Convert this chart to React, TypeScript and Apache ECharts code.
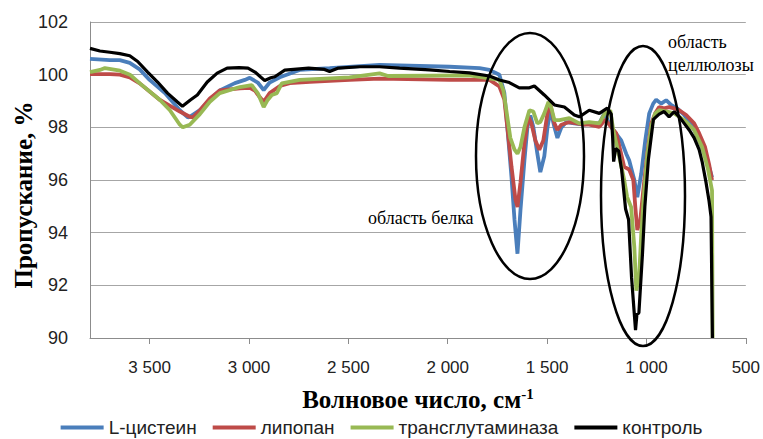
import React, { useEffect, useRef } from "react";
import * as echarts from "echarts";

const seriesNames = ["L-цистеин", "липопан", "трансглутаминаза", "контроль"];
const seriesColors = ["#4A7EBB", "#BE4B48", "#98B954", "#000000"];
const xTickValues = [500, 1000, 1500, 2000, 2500, 3000, 3500];

const cysteineWn = [3800, 3700, 3650, 3600, 3550, 3500, 3423, 3348, 3308, 3298, 3247, 3197, 3147, 3071, 3021, 2996, 2956, 2926, 2896, 2845, 2745, 2594, 2343, 1991, 1840, 1790, 1740, 1715, 1700, 1679, 1664, 1649, 1634, 1614, 1599, 1584, 1569, 1549, 1534, 1514, 1498, 1483, 1463, 1448, 1428, 1403, 1363, 1313, 1288, 1237, 1212, 1187, 1167, 1147, 1127, 1102, 1087, 1061, 1046, 1026, 1006, 986, 966, 951, 926, 901, 876, 845, 810, 775, 735, 700, 670];
const cysteineT = [100.6, 100.55, 100.55, 100.45, 100.2, 99.8, 99.3, 98.65, 98.38, 98.4, 98.65, 99.05, 99.4, 99.68, 99.8, 99.88, 99.7, 99.42, 99.7, 99.9, 100.18, 100.25, 100.37, 100.3, 100.25, 100.18, 100.0, 99.3, 98.0, 96.1, 94.5, 93.2, 94.85, 96.75, 98.0, 98.45, 98.0, 97.0, 96.3, 96.9, 98.0, 98.65, 98.0, 97.6, 98.0, 98.2, 98.15, 98.1, 98.15, 98.15, 98.53, 98.15, 97.9, 97.7, 97.5, 97.0, 96.75, 96.0, 95.35, 96.25, 97.5, 98.53, 98.9, 99.05, 98.9, 99.03, 98.85, 98.72, 98.47, 98.15, 97.5, 96.9, 96.1];

const lipopanWn = [3800, 3700, 3650, 3600, 3550, 3448, 3348, 3298, 3282, 3247, 3197, 3147, 3046, 2996, 2971, 2946, 2926, 2896, 2845, 2795, 2694, 2494, 2343, 1991, 1790, 1765, 1740, 1715, 1700, 1679, 1659, 1649, 1634, 1614, 1594, 1579, 1559, 1539, 1519, 1498, 1483, 1463, 1448, 1428, 1388, 1313, 1288, 1237, 1207, 1177, 1152, 1137, 1112, 1087, 1066, 1056, 1046, 1031, 1016, 996, 976, 956, 936, 911, 886, 860, 835, 800, 760, 735, 705, 685, 670];
const lipopanT = [100.02, 100.02, 100.0, 99.9, 99.67, 99.04, 98.6, 98.4, 98.38, 98.65, 99.1, 99.4, 99.48, 99.5, 99.4, 99.15, 98.97, 99.3, 99.57, 99.68, 99.73, 99.8, 99.85, 99.8, 99.8, 99.68, 99.55, 99.05, 98.0, 96.5, 95.25, 94.97, 95.9, 97.4, 98.4, 98.15, 97.5, 97.15, 97.5, 98.53, 98.85, 98.15, 97.9, 98.1, 98.2, 98.1, 98.1, 98.02, 98.3, 98.0, 97.78, 97.3, 96.5, 96.4, 96.0, 94.97, 94.1, 94.48, 95.6, 97.0, 98.15, 98.53, 98.77, 98.72, 98.77, 98.72, 98.65, 98.47, 98.15, 97.78, 97.25, 96.6, 96.0];

const transglutWn = [3800, 3750, 3725, 3649, 3599, 3549, 3448, 3398, 3348, 3333, 3298, 3247, 3197, 3147, 3046, 2986, 2956, 2926, 2906, 2885, 2860, 2835, 2745, 2494, 2343, 2300, 1891, 1740, 1720, 1705, 1685, 1664, 1649, 1634, 1614, 1589, 1569, 1549, 1534, 1514, 1493, 1478, 1463, 1438, 1388, 1338, 1288, 1237, 1212, 1182, 1167, 1152, 1137, 1112, 1097, 1077, 1061, 1051, 1036, 1026, 1011, 996, 976, 956, 936, 896, 860, 810, 760, 720, 690, 670, 667];
const transglutT = [100.1, 100.18, 100.25, 100.15, 100.0, 99.67, 99.04, 98.65, 98.1, 98.0, 98.1, 98.5, 98.97, 99.3, 99.53, 99.6, 99.3, 98.77, 99.04, 99.23, 99.3, 99.67, 99.8, 99.9, 100.05, 99.95, 99.97, 99.8, 99.4, 98.65, 97.6, 97.15, 97.0, 97.25, 98.0, 98.65, 98.6, 98.15, 98.2, 98.53, 98.97, 98.72, 98.27, 98.27, 98.35, 98.15, 98.2, 98.15, 98.5, 98.65, 97.9, 97.4, 96.9, 96.0, 95.35, 94.97, 93.45, 91.8, 92.45, 93.98, 95.6, 96.9, 98.02, 98.53, 98.65, 98.6, 98.53, 98.27, 97.9, 97.25, 96.4, 95.6, 90.0];

const controlWn = [3800, 3750, 3700, 3650, 3600, 3560, 3510, 3460, 3410, 3360, 3335, 3295, 3260, 3210, 3160, 3110, 3050, 3005, 2970, 2940, 2921, 2890, 2870, 2820, 2745, 2700, 2620, 2594, 2550, 2443, 2343, 2242, 2092, 1990, 1891, 1790, 1740, 1690, 1640, 1589, 1564, 1514, 1463, 1413, 1363, 1338, 1288, 1237, 1197, 1177, 1170, 1165, 1155, 1140, 1125, 1105, 1090, 1075, 1060, 1055, 1048, 1038, 1020, 1008, 990, 965, 936, 911, 886, 860, 835, 810, 785, 760, 735, 720, 700, 685, 675, 668];
const controlT = [101.0, 100.9, 100.85, 100.8, 100.72, 100.5, 100.1, 99.72, 99.3, 98.96, 98.8, 99.04, 99.23, 99.72, 100.06, 100.25, 100.27, 100.25, 100.1, 99.9, 99.78, 99.88, 99.92, 100.17, 100.22, 100.25, 100.2, 100.12, 100.25, 100.3, 100.3, 100.25, 100.18, 100.12, 100.07, 99.95, 99.8, 99.7, 99.5, 99.5, 99.57, 99.23, 98.85, 98.77, 98.47, 98.4, 98.65, 98.53, 98.73, 98.5, 97.6, 96.7, 97.2, 97.1, 96.4, 94.9, 94.5, 92.3, 90.8, 90.3, 90.9, 90.95, 93.2, 95.0, 96.8, 98.3, 98.5, 98.6, 98.4, 98.6, 98.4, 98.15, 97.9, 97.6, 97.15, 96.7, 95.9, 95.2, 94.6, 90.0];

const seriesWn = [cysteineWn, lipopanWn, transglutWn, controlWn];
const seriesT = [cysteineT, lipopanT, transglutT, controlT];

const fmtThousands = (v: number) => {
  const s = String(v);
  return s.length > 3 ? s.slice(0, s.length - 3) + " " + s.slice(-3) : s;
};

export default function App() {
  const ref = useRef<HTMLDivElement>(null);
  useEffect(() => {
    if (!ref.current) return;
    const chart = echarts.init(ref.current, undefined, { renderer: "svg" });
    const series = seriesNames.map((name, i) => ({
      name,
      type: "line",
      showSymbol: false,
      symbol: "none",
      data: seriesWn[i].map((w, j) => [w, seriesT[i][j]]),
      lineStyle: { color: seriesColors[i], width: i === 3 ? 3.2 : 3.8 },
      itemStyle: { color: seriesColors[i] },
      z: 2 + i,
    }));
    chart.setOption({
      animation: false,
      backgroundColor: "#ffffff",
      grid: { left: 90, right: 15, top: 22, bottom: 101, containLabel: false },
      legend: {
        data: seriesNames,
        bottom: -3,
        left: "center",
        icon: "rect",
        itemWidth: 43,
        itemHeight: 4,
        itemGap: 16,
        textStyle: { fontFamily: "Liberation Sans", fontSize: 19, color: "#222" },
      },
      xAxis: {
        type: "value",
        inverse: true,
        min: 500,
        max: 3800,
        interval: 500,
        name: "Волновое число, см{sup|-1}",
        nameLocation: "middle",
        nameGap: 48,
        nameTextStyle: {
          fontFamily: "Liberation Serif",
          fontWeight: "bold",
          fontSize: 25,
          color: "#000",
          rich: {
            sup: { fontFamily: "Liberation Serif", fontWeight: "bold", fontSize: 15, color: "#000", padding: [0, 0, 12, 0] },
          },
        },
        axisLine: { show: true, lineStyle: { color: "#8c8c8c", width: 1 } },
        axisTick: { show: true, length: 6, lineStyle: { color: "#8c8c8c" }, customValues: xTickValues },
        axisLabel: {
          customValues: xTickValues,
          formatter: (v: number) => fmtThousands(v),
          fontFamily: "Liberation Sans",
          fontSize: 17,
          color: "#222",
          margin: 21,
        },
        splitLine: { show: false },
      },
      yAxis: {
        type: "value",
        min: 90,
        max: 102,
        interval: 2,
        axisLine: { show: true, lineStyle: { color: "#8c8c8c", width: 1 } },
        axisTick: { show: false },
        axisLabel: { fontFamily: "Liberation Sans", fontSize: 18, color: "#222", margin: 22 },
        splitLine: { show: true, lineStyle: { color: "#a6a6a6", width: 1 } },
      },
      series,
      graphic: [
        { type: "ellipse", shape: { cx: 530, cy: 156, rx: 54, ry: 123 }, style: { fill: "none", stroke: "#000", lineWidth: 2.5 }, z: 100 },
        { type: "ellipse", shape: { cx: 643, cy: 196, rx: 42, ry: 150 }, style: { fill: "none", stroke: "#000", lineWidth: 2.5 }, z: 100 },
        {
          type: "text",
          x: 23,
          y: 195,
          rotation: Math.PI / 2,
          style: { text: "Пропускание, %", fontFamily: "Liberation Serif", fontWeight: "bold", fontSize: 25, fill: "#000", align: "center", verticalAlign: "middle" },
          z: 100,
        },
        { type: "text", x: 368, y: 218, style: { text: "область белка", fontFamily: "Liberation Serif", fontSize: 18, fill: "#000", verticalAlign: "middle" }, z: 100 },
        { type: "text", x: 668, y: 42, style: { text: "область", fontFamily: "Liberation Serif", fontSize: 18, fill: "#000", verticalAlign: "middle" }, z: 100 },
        { type: "text", x: 668, y: 65, style: { text: "целлюлозы", fontFamily: "Liberation Serif", fontSize: 18, fill: "#000", verticalAlign: "middle" }, z: 100 },
      ],
    });
    return () => chart.dispose();
  }, []);
  return <div ref={ref} style={{ width: 763, height: 439, position: "absolute", left: 0, top: 0 }} />;
}
